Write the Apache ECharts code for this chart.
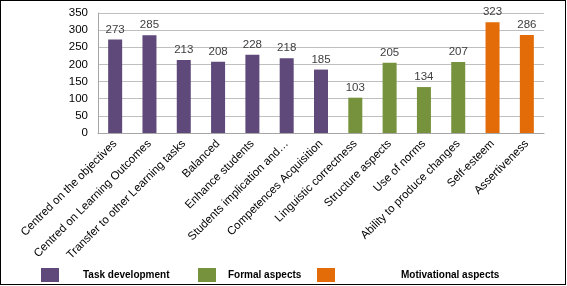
<!DOCTYPE html>
<html><head><meta charset="utf-8">
<script src="https://cdn.jsdelivr.net/npm/echarts@6/dist/echarts.min.js"></script>
<style>
html,body{margin:0;padding:0;background:#fff;}
#c{width:566px;height:285px;border:1px solid #000;box-sizing:border-box;}
</style></head><body>
<div id="c"></div>
<script>
const categories = ["Centred on the objectives","Centred on Learning Outcomes","Transfer to other Learning tasks","Balanced","Enhance students","Students implication and\u2026","Competences Acquisition","Linguistic correctness","Structure aspects","Use of norms","Ability to produce changes","Self-esteem","Assertiveness"];
const taskDevelopment = [273,285,213,208,228,218,185,null,null,null,null,null,null];
const formalAspects = [null,null,null,null,null,null,null,103,205,134,207,null,null];
const motivationalAspects = [null,null,null,null,null,null,null,null,null,null,null,323,286];
const yTicks = {min:0,max:350,interval:50};

const font = "Liberation Sans";
const chart = echarts.init(document.getElementById('c'), null, {renderer:'canvas'});
const lbl = {show:true, position:'top', distance:4, color:'#404040', fontSize:11.5, fontFamily:font};
function mkLegend(name, left, pad){
  return {data:[name], left:left, top:262, icon:'rect', itemWidth:18, itemHeight:14,
    textStyle:{fontFamily:font, fontWeight:'bold', fontSize:10, color:'#000', padding:[0,0,0,pad]}};
}
chart.setOption({
  animation:false,
  grid:{left:97, right:21, top:12, bottom:151, containLabel:false},
  legend:[mkLegend('Task development',35,19), mkLegend('Formal aspects',192,7), mkLegend('Motivational aspects',311,61)],
  xAxis:{type:'category', data:categories,
    axisLine:{lineStyle:{color:'#A6A6A6'}}, axisTick:{show:false},
    axisLabel:{rotate:45, interval:0, fontSize:11.5, fontFamily:font, color:'#000', margin:9}},
  yAxis:{type:'value', min:yTicks.min, max:yTicks.max, interval:yTicks.interval,
    axisLine:{show:true, lineStyle:{color:'#A6A6A6'}}, axisTick:{show:false},
    splitLine:{lineStyle:{color:'#BFBFBF'}},
    axisLabel:{fontSize:11.5, fontFamily:font, color:'#000', margin:10}},
  series:[
    {name:'Task development', type:'bar', stack:'s', data:taskDevelopment, barWidth:14, itemStyle:{color:'#5F497A'}, label:lbl},
    {name:'Formal aspects', type:'bar', stack:'s', data:formalAspects, barWidth:14, itemStyle:{color:'#76923C'}, label:lbl},
    {name:'Motivational aspects', type:'bar', stack:'s', data:motivationalAspects, barWidth:14, itemStyle:{color:'#E36C09'}, label:lbl}
  ]
});
</script></body></html>
